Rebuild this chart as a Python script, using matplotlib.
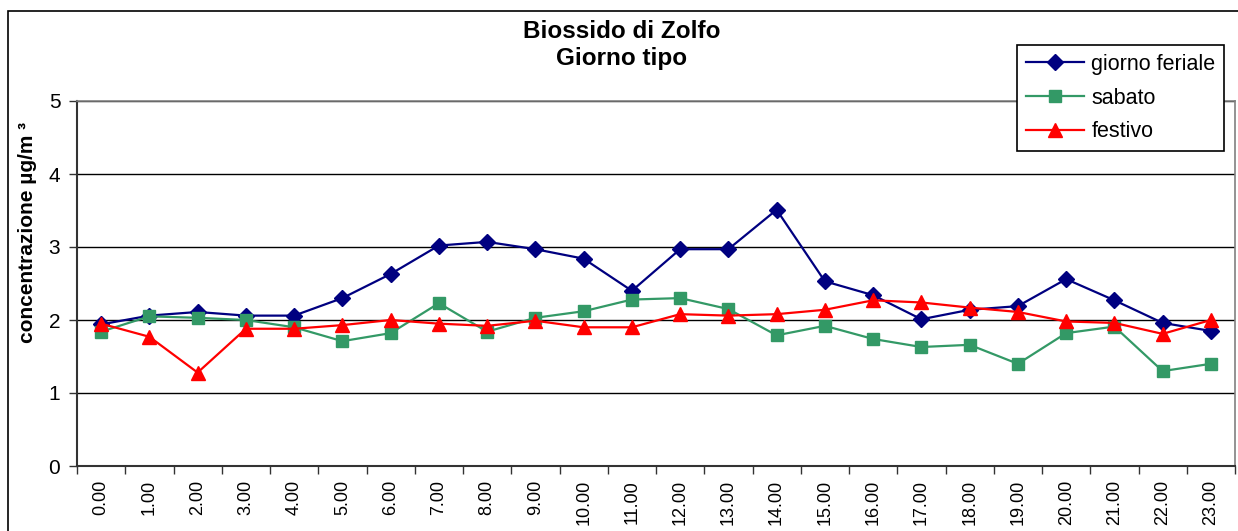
import matplotlib.pyplot as plt
from matplotlib.patches import Rectangle

# hours of the day
ore = ["%d.00" % h for h in range(24)]

# concentrazione SO2 (ug/m3)
feriale = [1.94, 2.06, 2.11, 2.06, 2.06, 2.30, 2.63, 3.02, 3.07, 2.97, 2.84, 2.40,
           2.97, 2.97, 3.51, 2.53, 2.34, 2.01, 2.14, 2.19, 2.56, 2.27, 1.96, 1.85]
sabato = [1.84, 2.05, 2.03, 2.00, 1.90, 1.71, 1.82, 2.23, 1.84, 2.03, 2.12, 2.28,
          2.30, 2.15, 1.79, 1.92, 1.74, 1.63, 1.66, 1.40, 1.82, 1.91, 1.30, 1.40]
festivo = [1.95, 1.77, 1.28, 1.88, 1.88, 1.93, 2.00, 1.95, 1.92, 1.99, 1.90, 1.90,
           2.08, 2.06, 2.08, 2.14, 2.27, 2.24, 2.17, 2.11, 1.98, 1.96, 1.81, 2.00]

plt.rcParams['font.family'] = ['Liberation Sans', 'DejaVu Sans']

W, H = 1238, 531
fig = plt.figure(figsize=(W / 100, H / 100), dpi=100)

# outer chart border (bottom is cut off in the original)
fig.patches.append(Rectangle((8 / W, -0.1), 1.2, 1 - 11 / H + 0.1, transform=fig.transFigure,
                             fill=False, edgecolor='black', linewidth=1.2, zorder=0))

ax = fig.add_axes([77 / W, 1 - 466 / H, (1235 - 77) / W, (466 - 101) / H])

x = list(range(len(ore)))
ax.plot(x, feriale, color='#000080', marker='D', markersize=8, linewidth=1.6, label='giorno feriale')
ax.plot(x, sabato, color='#339966', marker='s', markersize=8, linewidth=1.6, label='sabato')
ax.plot(x, festivo, color='#FF0000', marker='^', markersize=10, linewidth=1.6, label='festivo')

ax.set_xlim(-0.5, 23.5)
ax.set_ylim(0, 5)
ax.set_yticks([0, 1, 2, 3, 4, 5])
ax.set_xticks(x)
ax.set_xticklabels(ore, rotation=90, fontsize=13)
ax.set_xticks([i - 0.5 for i in range(25)], minor=True)
ax.tick_params(axis='x', which='major', length=0, pad=10)
ax.tick_params(axis='x', which='minor', length=6, width=1, direction='out', color='#333333')
ax.tick_params(axis='y', length=6, width=1, direction='out', labelsize=15, pad=6, color='#333333')

ax.grid(axis='y', color='black', linewidth=1)
ax.set_axisbelow(True)
for s in ['top', 'right']:
    ax.spines[s].set_color('#808080')
    ax.spines[s].set_linewidth(1.2)
for s in ['left', 'bottom']:
    ax.spines[s].set_color('#333333')
    ax.spines[s].set_linewidth(1.5)

# y label sits above the axis centre in the original
fig.text(28 / W, 1 - 232 / H, 'concentrazione µg/m ³', rotation=90, ha='center', va='center',
         fontsize=15, fontweight='bold')

fig.text(622 / W, 1 - 38.5 / H, 'Biossido di Zolfo', ha='center', va='baseline', fontsize=17.5, fontweight='bold')
fig.text(622 / W, 1 - 65 / H, 'Giorno tipo', ha='center', va='baseline', fontsize=17.5, fontweight='bold')

leg = fig.legend(loc='upper left', bbox_to_anchor=(1017 / W, 1 - 45 / H), fontsize=15.5,
                 frameon=True, fancybox=False, edgecolor='black', framealpha=1,
                 handlelength=2.7, handletextpad=0.35, borderpad=0.4, labelspacing=0.6,
                 borderaxespad=0)
leg.get_frame().set_linewidth(1.2)

fig.savefig('out.png', dpi=100)
